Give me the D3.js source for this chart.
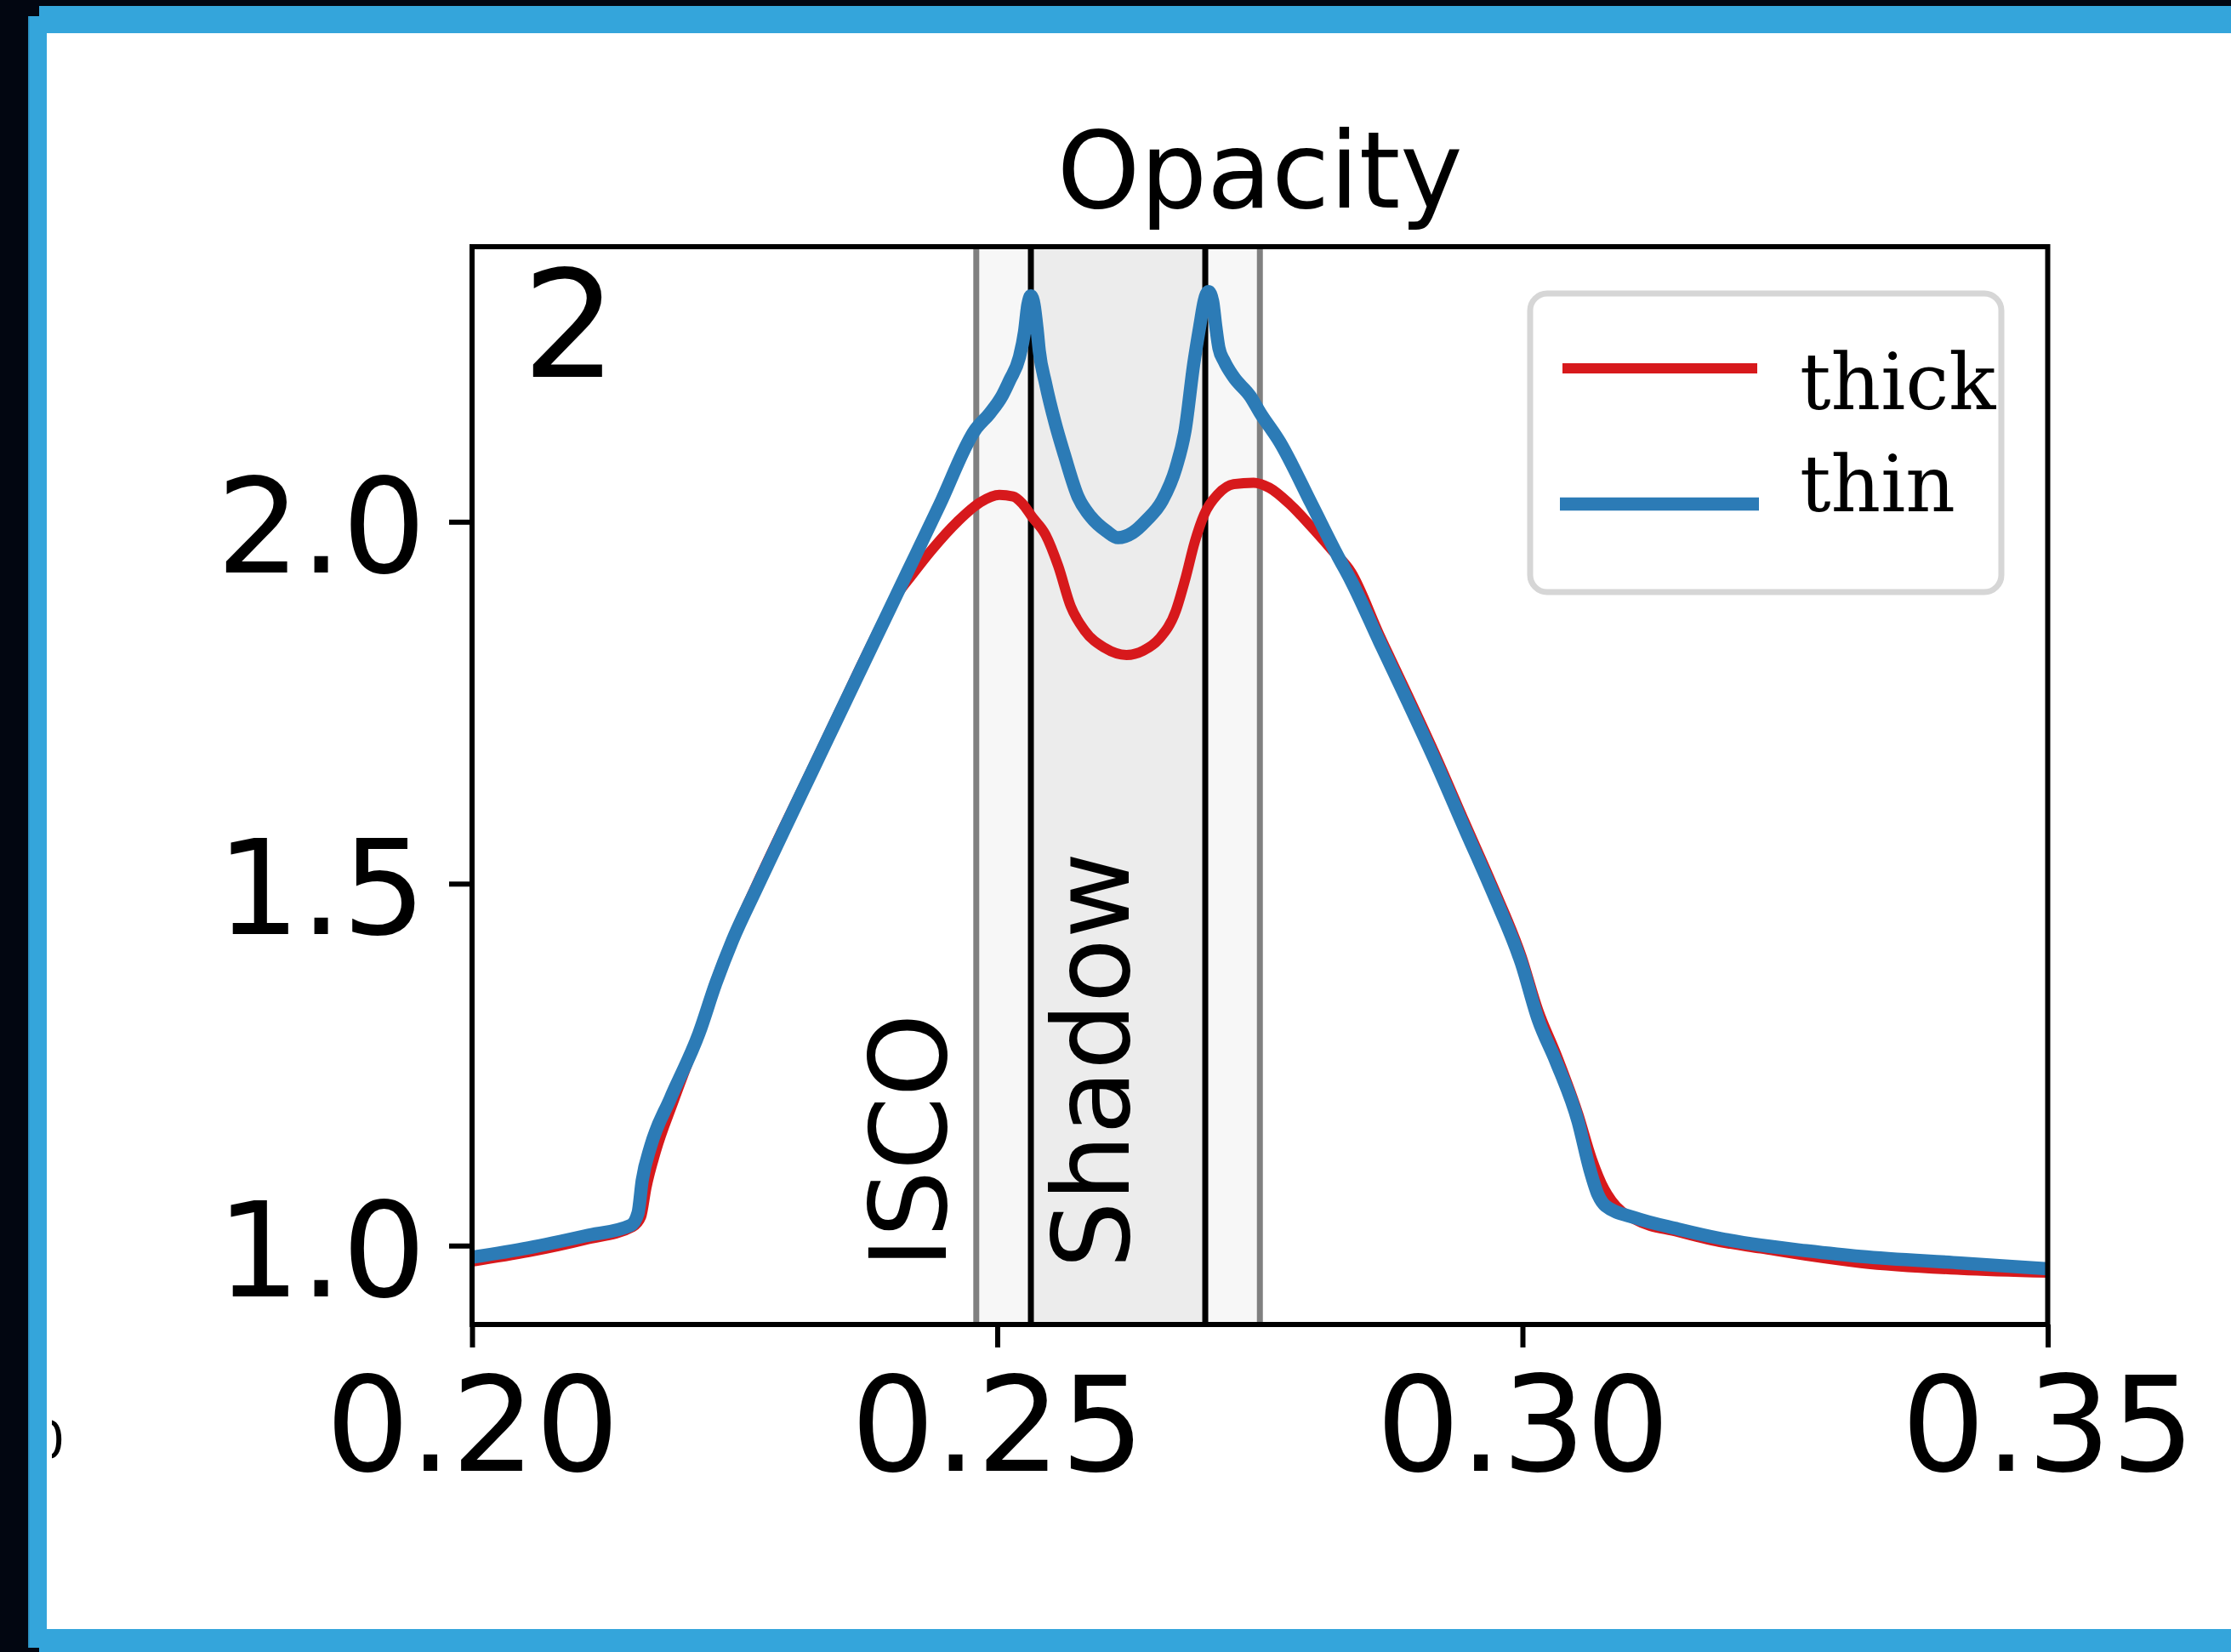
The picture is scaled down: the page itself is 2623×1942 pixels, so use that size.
<!DOCTYPE html>
<html>
<head>
<meta charset="utf-8">
<script src="https://cdn.jsdelivr.net/npm/d3@7"></script>
<style>
  html, body { margin: 0; padding: 0; background: #020611; }
  svg { display: block; }
</style>
</head>
<body>
<script>
// ---------------- DATA ----------------
const xTicks = [0.20, 0.25, 0.30, 0.35];
const xTickLabels = ["0.20", "0.25", "0.30", "0.35"];
const yTicks = [1.0, 1.5, 2.0];
const yTickLabels = ["1.0", "1.5", "2.0"];
const xLimits = [0.20, 0.35];
const yLimits = [0.891, 2.380];

const iscoBounds = [0.2480, 0.2750];
const shadowBounds = [0.2532, 0.2698];

const seriesNames = ["thick", "thin"];

const thinX = [0.2000,0.2054,0.2108,0.2151,0.2158,0.2162,0.2170,0.2189,0.2216,0.2232,0.2248,0.2270,0.2297,0.2324,0.2350,0.2380,0.2415,0.2445,0.2479,0.2493,0.2505,0.2512,0.2521,0.2526,0.2529,0.2532,0.2535,0.2538,0.2540,0.2546,0.2555,0.2564,0.2577,0.2589,0.2604,0.2615,0.2629,0.2642,0.2657,0.2670,0.2679,0.2687,0.2693,0.2697,0.2701,0.2705,0.2708,0.2711,0.2716,0.2725,0.2741,0.2750,0.2769,0.2799,0.2824,0.2837,0.2864,0.2891,0.2918,0.2945,0.2972,0.2999,0.3015,0.3032,0.3053,0.3064,0.3072,0.3079,0.3107,0.3148,0.3188,0.3227,0.3270,0.3322,0.3417,0.3500];
const thinY = [0.984,0.997,1.0135,1.028,1.045,1.090,1.137,1.204,1.293,1.362,1.422,1.491,1.574,1.656,1.735,1.826,1.932,2.023,2.127,2.150,2.175,2.196,2.227,2.263,2.299,2.312,2.300,2.265,2.236,2.191,2.137,2.092,2.034,2.007,1.987,1.978,1.985,2.002,2.029,2.074,2.128,2.218,2.272,2.305,2.318,2.305,2.270,2.240,2.222,2.200,2.173,2.151,2.110,2.025,1.953,1.918,1.834,1.751,1.666,1.576,1.487,1.390,1.312,1.254,1.171,1.106,1.070,1.055,1.0385,1.023,1.010,1.0006,0.993,0.985,0.976,0.968];

const thickX = [0.2000,0.2054,0.2108,0.2153,0.2161,0.2166,0.2175,0.2192,0.2216,0.2232,0.2248,0.2270,0.2297,0.2324,0.2350,0.2380,0.2405,0.2418,0.2437,0.2462,0.2484,0.2502,0.2515,0.2524,0.2533,0.2546,0.2558,0.2570,0.2583,0.2602,0.2623,0.2639,0.2654,0.2670,0.2679,0.2688,0.2697,0.2710,0.2725,0.2744,0.2759,0.2778,0.2799,0.2818,0.2837,0.2864,0.2891,0.2918,0.2945,0.2972,0.2999,0.3015,0.3032,0.3053,0.3066,0.3078,0.3085,0.3107,0.3148,0.3188,0.3227,0.3270,0.3322,0.3417,0.3500];
const thickY = [0.978,0.991,1.008,1.026,1.040,1.080,1.130,1.200,1.295,1.366,1.425,1.496,1.579,1.660,1.739,1.830,1.900,1.925,1.960,2.000,2.027,2.037,2.035,2.025,2.007,1.982,1.939,1.883,1.850,1.826,1.816,1.822,1.838,1.877,1.921,1.972,2.010,2.038,2.052,2.054,2.047,2.025,1.993,1.962,1.930,1.843,1.760,1.675,1.585,1.496,1.400,1.325,1.265,1.182,1.120,1.078,1.062,1.036,1.019,1.005,0.996,0.986,0.976,0.9665,0.9626];

// ---------------- LAYOUT ----------------
const W = 2623, H = 1942;
const plot = { left: 555, right: 2407.5, top: 290, bottom: 1557 };
const RED = "#d7191c", BLUE = "#2c7bb6";

const svg = d3.select("body").append("svg")
  .attr("width", W).attr("height", H)
  .attr("viewBox", `0 0 ${W} ${H}`);

// frame
svg.append("rect").attr("x", 0).attr("y", 0).attr("width", W).attr("height", H).attr("fill", "#020611");
svg.append("rect").attr("x", 46).attr("y", 7).attr("width", W - 46).attr("height", H - 7).attr("fill", "#34a5db");
svg.append("rect").attr("x", 33).attr("y", 19).attr("width", W - 33).attr("height", 1937 - 19).attr("fill", "#34a5db");
svg.append("rect").attr("x", 33).attr("y", 19).attr("width", 1.5).attr("height", 1937 - 19).attr("fill", "#2a8bbb");
svg.append("rect").attr("x", 55).attr("y", 39).attr("width", W - 55).attr("height", 1915 - 39).attr("fill", "#ffffff");

// stray clipped glyph at the left edge
const defs = svg.append("defs");
defs.append("clipPath").attr("id", "strayClip")
  .append("rect").attr("x", 61).attr("y", 1600).attr("width", 40).attr("height", 200);
svg.append("text").attr("clip-path", "url(#strayClip)")
  .attr("x", 38).attr("y", 1714)
  .attr("font-family", "DejaVu Sans").attr("font-size", 60).attr("fill", "#000")
  .text("0");

const x = d3.scaleLinear().domain(xLimits).range([plot.left, plot.right]);
const y = d3.scaleLinear().domain(yLimits).range([plot.bottom, plot.top]);

defs.append("clipPath").attr("id", "plotClip")
  .append("rect").attr("x", plot.left).attr("y", plot.top)
  .attr("width", plot.right - plot.left).attr("height", plot.bottom - plot.top);

const g = svg.append("g");
const inner = g.append("g").attr("clip-path", "url(#plotClip)");

// spans
inner.append("rect")
  .attr("x", x(iscoBounds[0])).attr("width", x(iscoBounds[1]) - x(iscoBounds[0]))
  .attr("y", plot.top).attr("height", plot.bottom - plot.top)
  .attr("fill", "#f7f7f7");
inner.append("rect")
  .attr("x", x(shadowBounds[0])).attr("width", x(shadowBounds[1]) - x(shadowBounds[0]))
  .attr("y", plot.top).attr("height", plot.bottom - plot.top)
  .attr("fill", "#ececec");

// vertical lines
iscoBounds.forEach(v => {
  inner.append("line").attr("x1", x(v)).attr("x2", x(v))
    .attr("y1", plot.top).attr("y2", plot.bottom)
    .attr("stroke", "#808080").attr("stroke-width", 7);
});
shadowBounds.forEach(v => {
  inner.append("line").attr("x1", x(v)).attr("x2", x(v))
    .attr("y1", plot.top).attr("y2", plot.bottom)
    .attr("stroke", "#000000").attr("stroke-width", 7);
});

// curves
const line = d3.line().x(d => x(d[0])).y(d => y(d[1])).curve(d3.curveMonotoneX);
const thickData = thickX.map((v, i) => [v, thickY[i]]);
const thinData = thinX.map((v, i) => [v, thinY[i]]);

inner.append("path").datum(thickData).attr("d", line)
  .attr("fill", "none").attr("stroke", RED).attr("stroke-width", 12)
  .attr("stroke-linejoin", "round").attr("stroke-linecap", "square");
inner.append("path").datum(thinData).attr("d", line)
  .attr("fill", "none").attr("stroke", BLUE).attr("stroke-width", 15.5)
  .attr("stroke-linejoin", "round").attr("stroke-linecap", "square");

// rotated labels
g.append("text")
  .attr("transform", `translate(1112,1491) rotate(-90)`)
  .attr("font-family", "DejaVu Sans").attr("font-size", 124).attr("fill", "#000")
  .text("ISCO");
g.append("text")
  .attr("transform", `translate(1327,1491) rotate(-90)`)
  .attr("font-family", "DejaVu Sans").attr("font-size", 124).attr("fill", "#000")
  .text("Shadow");

// panel number
g.append("text").attr("x", 614).attr("y", 443)
  .attr("font-family", "DejaVu Sans").attr("font-size", 175).attr("fill", "#000")
  .text("2");

// legend
const lg = g.append("g");
lg.append("rect").attr("x", 1799).attr("y", 345).attr("width", 554).attr("height", 351)
  .attr("rx", 20).attr("ry", 20)
  .attr("fill", "#ffffff").attr("stroke", "#d6d6d6").attr("stroke-width", 7);
const legendRows = [
  { name: seriesNames[0], color: RED, width: 12, x1: 1837, x2: 2066, ly: 433, ty: 481 },
  { name: seriesNames[1], color: BLUE, width: 15.5, x1: 1834, x2: 2068, ly: 592.5, ty: 601 }
];
legendRows.forEach(r => {
  lg.append("line").attr("x1", r.x1).attr("x2", r.x2).attr("y1", r.ly).attr("y2", r.ly)
    .attr("stroke", r.color).attr("stroke-width", r.width);
  lg.append("text").attr("x", 2116).attr("y", r.ty)
    .attr("font-family", "DejaVu Serif").attr("font-size", 91).attr("fill", "#000")
    .text(r.name);
});

// spines
g.append("rect").attr("x", plot.left).attr("y", plot.top)
  .attr("width", plot.right - plot.left).attr("height", plot.bottom - plot.top)
  .attr("fill", "none").attr("stroke", "#000").attr("stroke-width", 6);

// axes
const xAxis = d3.axisBottom(x).tickValues(xTicks)
  .tickFormat((d, i) => xTickLabels[i]).tickSize(27).tickSizeOuter(0);
const xg = g.append("g").attr("transform", `translate(0,${plot.bottom})`).call(xAxis);
xg.select(".domain").remove();
xg.selectAll(".tick line").attr("stroke", "#000").attr("stroke-width", 6);
xg.selectAll(".tick text")
  .attr("y", 172).attr("dy", null)
  .attr("font-family", "DejaVu Sans").attr("font-size", 155).attr("fill", "#000");

const yAxis = d3.axisLeft(y).tickValues(yTicks)
  .tickFormat((d, i) => yTickLabels[i]).tickSize(27).tickSizeOuter(0);
const yg = g.append("g").attr("transform", `translate(${plot.left},0)`).call(yAxis);
yg.select(".domain").remove();
yg.selectAll(".tick line").attr("stroke", "#000").attr("stroke-width", 6);
yg.selectAll(".tick text")
  .attr("x", -54).attr("dy", null).attr("y", 59)
  .attr("font-family", "DejaVu Sans").attr("font-size", 155).attr("fill", "#000");

// title
g.append("text").attr("x", (plot.left + plot.right) / 2).attr("y", 244)
  .attr("text-anchor", "middle")
  .attr("font-family", "DejaVu Sans").attr("font-size", 124).attr("fill", "#000")
  .text("Opacity");
</script>
</body>
</html>
